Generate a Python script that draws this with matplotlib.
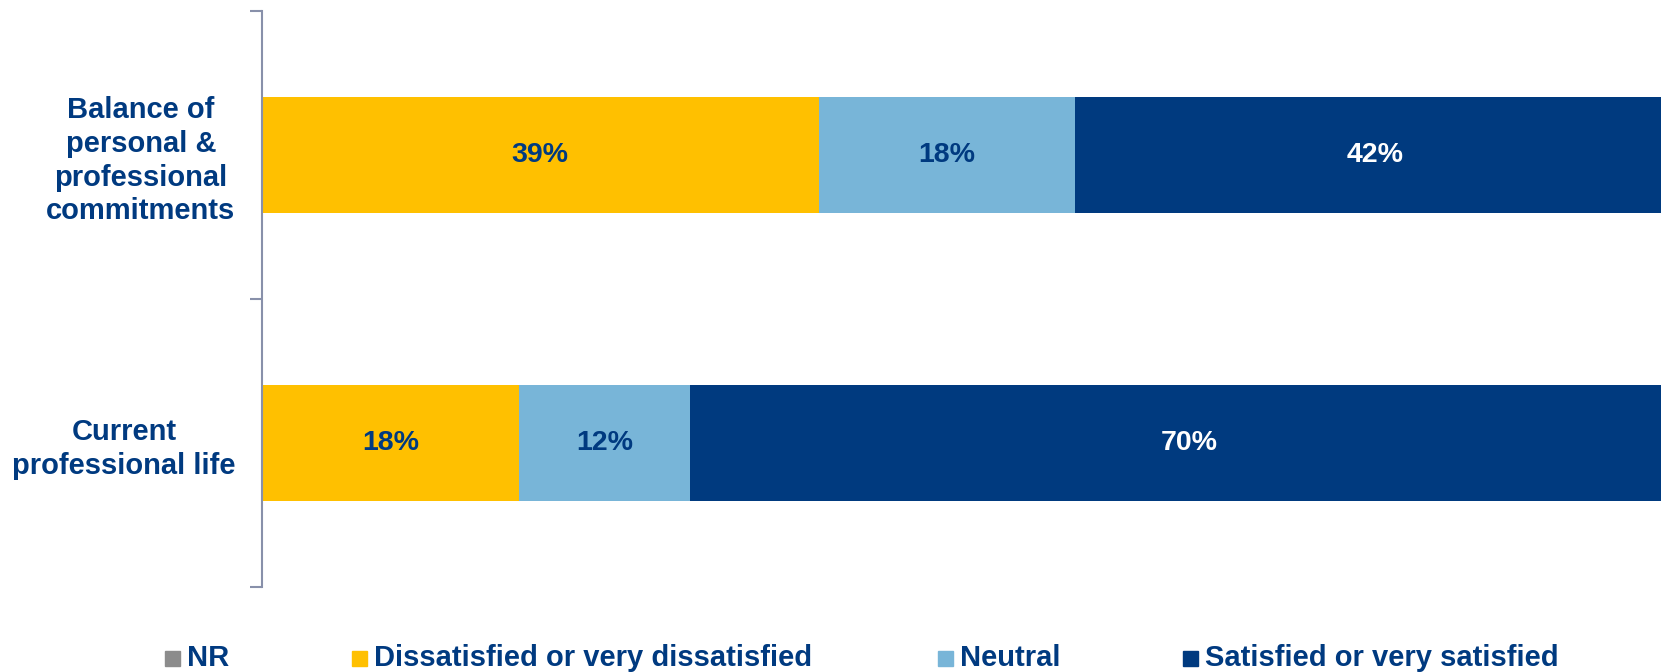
import matplotlib
matplotlib.use("agg")
import matplotlib.pyplot as plt
from matplotlib.patches import Rectangle
import numpy as np

categories = ["Current\nprofessional life", "Balance of\npersonal &\nprofessional\ncommitments"]
series = ["NR", "Dissatisfied or very dissatisfied", "Neutral", "Satisfied or very satisfied"]
values = {
    "NR": [0, 0],
    "Dissatisfied or very dissatisfied": [18, 39],
    "Neutral": [12, 18],
    "Satisfied or very satisfied": [70, 42],
}
colors = {
    "NR": "#8c8c8c",
    "Dissatisfied or very dissatisfied": "#ffc000",
    "Neutral": "#78b5d8",
    "Satisfied or very satisfied": "#003a7f",
}
label_colors = {
    "Dissatisfied or very dissatisfied": "#003a80",
    "Neutral": "#003a80",
    "Satisfied or very satisfied": "white",
}
navy = "#003a80"

plt.rcParams["font.family"] = ["Liberation Sans", "DejaVu Sans"]
plt.rcParams["font.weight"] = "bold"

fig = plt.figure(figsize=(16.61, 6.72), dpi=100)
# axes runs past the right edge of the figure like the original crop
ax = fig.add_axes([262 / 1661, 1 - 587 / 672, 1427 / 1661, 576 / 672])

y = np.arange(len(categories))
left = np.zeros(len(categories))
for s in series:
    v = np.array(values[s], dtype=float)
    ax.barh(y, v, left=left, height=0.4, color=colors[s], edgecolor="none")
    if s in label_colors:
        for yi, (l, w) in enumerate(zip(left, v)):
            if w > 0:
                ax.text(l + w / 2, yi, f"{w:.0f}%", ha="center", va="center",
                        fontsize=20.5, fontweight="bold", color=label_colors[s])
    left += v

ax.set_xlim(0, 100)
ax.set_ylim(-0.5, 1.5)
ax.set_xticks([])
ax.set_yticks([-0.5, 0.5, 1.5])
ax.set_yticklabels([])
ax.set_yticks(y, minor=True)
ax.set_yticklabels(categories, minor=True, fontsize=21, fontweight="bold",
                   color=navy, multialignment="center", linespacing=1.26)
ax.tick_params(axis="y", which="major", length=9, width=1.5, color="#8890aa", direction="out")
ax.tick_params(axis="y", which="minor", length=0, pad=19)
for sp in ["top", "right", "bottom"]:
    ax.spines[sp].set_visible(False)
ax.spines["left"].set_color("#8890aa")
ax.spines["left"].set_linewidth(1.5)

# legend along the bottom
W, H = 1661, 672
leg_x = [165, 352, 938, 1183]
for s, x0 in zip(series, leg_x):
    fig.patches.append(Rectangle((x0 / W, 1 - 666 / H), 15 / W, 15 / H,
                                 transform=fig.transFigure, color=colors[s]))
    fig.text((x0 + 22) / W, 1 - 658 / H, s, ha="left", va="center",
             fontsize=21, fontweight="bold", color=navy)

fig.savefig("out.png", dpi=100)
